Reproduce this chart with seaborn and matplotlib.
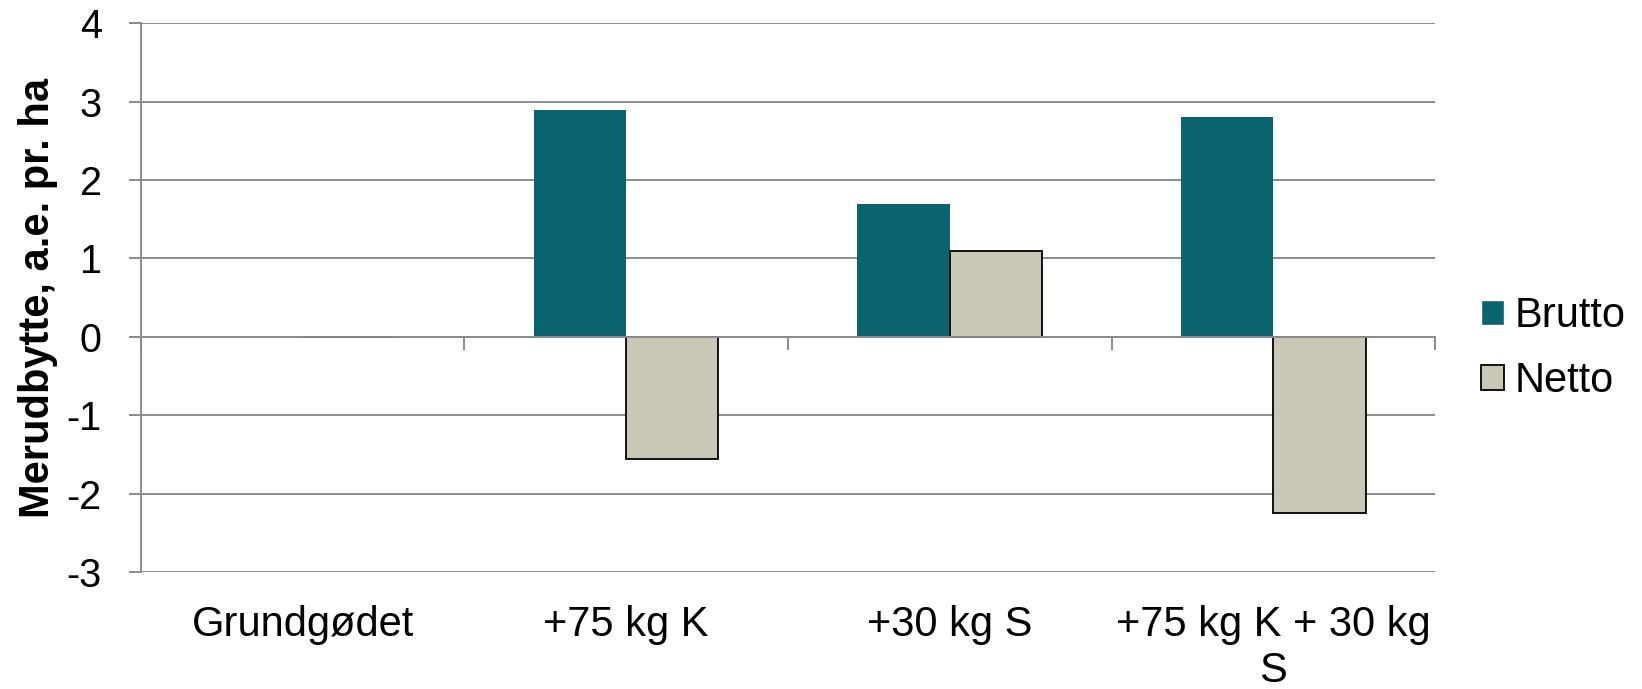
import matplotlib
matplotlib.use("Agg")
import matplotlib.pyplot as plt
import seaborn as sns
import pandas as pd

# Data
categories = ["Grundgødet", "+75 kg K", "+30 kg S", "+75 kg K + 30 kg\nS"]
brutto = [0.0, 2.9, 1.7, 2.8]
netto = [0.0, -1.56, 1.1, -2.25]
series = ["Brutto", "Netto"]
yticks = [-3, -2, -1, 0, 1, 2, 3, 4]

df = pd.DataFrame({
    "kategori": categories * 2,
    "serie": [series[0]] * len(categories) + [series[1]] * len(categories),
    "værdi": brutto + netto,
})

sns.set_theme(style="white")
plt.rcParams["font.family"] = ["Liberation Sans", "DejaVu Sans"]
plt.rcParams["text.color"] = "black"
plt.rcParams["axes.labelcolor"] = "black"
plt.rcParams["xtick.labelcolor"] = "black"
plt.rcParams["ytick.labelcolor"] = "black"

GRID = "#8c8c8c"
FS = 30
colors = {"Brutto": "#0a6470", "Netto": "#c8c8b4"}

fig = plt.figure(figsize=(16.42, 6.89), dpi=100)
ax = fig.add_axes([0.0857, 0.170, 0.7883, 0.796])

sns.barplot(data=df, x="kategori", y="værdi", hue="serie", order=categories,
            hue_order=series, palette=colors, width=0.57, gap=0,
            saturation=1, ax=ax, legend=True, errorbar=None)

# Netto bars get a black outline
for bar in ax.containers[1]:
    bar.set_edgecolor("black")
    bar.set_linewidth(1.3)
for bar in ax.containers[0]:
    bar.set_linewidth(0)

ax.set_xlim(-0.5, 3.5)
ax.set_ylim(-3, 4)
ax.set_yticks(yticks)
ax.set_yticklabels([str(v) for v in yticks], fontsize=28.5)
ax.yaxis.grid(True, color=GRID, linewidth=1.4)
ax.set_axisbelow(True)
ax.tick_params(axis="y", direction="out", length=9, width=1.4, color=GRID, pad=19, left=True)

for s in ["top", "right"]:
    ax.spines[s].set_visible(False)
ax.spines["left"].set_color(GRID)
ax.spines["left"].set_linewidth(1.4)

# Category axis crosses at zero, with boundary ticks
ax.spines["bottom"].set_position(("data", 0))
ax.spines["bottom"].set_color(GRID)
ax.spines["bottom"].set_linewidth(1.4)
ax.set_xticks([-0.5, 0.5, 1.5, 2.5, 3.5])
ax.set_xticklabels([])
ax.tick_params(axis="x", direction="out", length=9, width=1.4, color=GRID, bottom=True)
ax.set_xlabel("")

# Category labels sit below the plot area
sec = ax.secondary_xaxis(0.0)
sec.set_xticks(range(len(categories)))
sec.set_xticklabels(categories, fontsize=FS, linespacing=1.2, va="top")
sec.tick_params(length=0, pad=24)
sec.spines["bottom"].set_visible(False)

ax.set_ylabel("Merudbytte, a.e. pr. ha", fontsize=30, fontweight="bold", labelpad=6)

# Legend on the right
handles, labels = ax.get_legend_handles_labels()
ax.legend_.remove()
handles[1].set_edgecolor("black")
handles[1].set_linewidth(1.3)
fig.legend(handles, labels, loc="center left", bbox_to_anchor=(0.8895, 0.4935),
           frameon=False, fontsize=FS, handlelength=0.55, handleheight=0.55,
           handletextpad=0.25, labelspacing=0.6, borderpad=0)

fig.savefig("out.png", dpi=100)
